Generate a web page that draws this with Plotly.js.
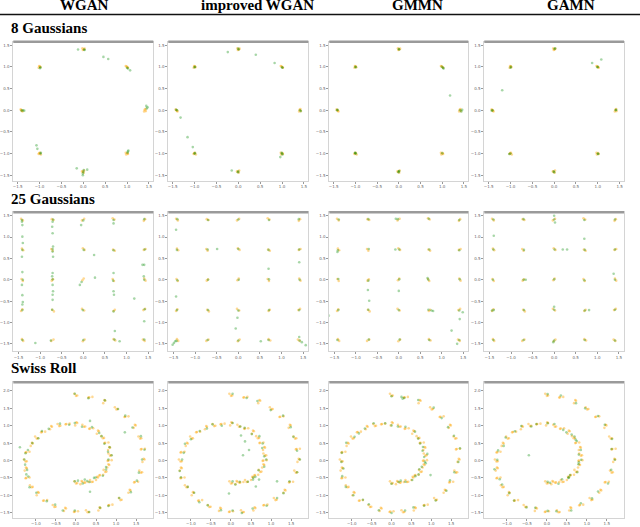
<!DOCTYPE html>
<html>
<head>
<meta charset="utf-8">
<script src="https://cdn.plot.ly/plotly-3.0.1.min.js"></script>
<style>
  body { margin: 0; background: #fff; }
  #chart { width: 640px; height: 527px; }
</style>
</head>
<body>
<div id="chart"></div>
<script>
// column and row names
var methods = ["WGAN", "improved WGAN", "GMMN", "GAMN"];
var rowNames = ["8 Gaussians", "25 Gaussians", "Swiss Roll"];

// tick labels
var gaussTicks = [-1.5, -1.0, -0.5, 0.0, 0.5, 1.0, 1.5];
var gaussTickText = ["\u22121.5", "\u22121.0", "\u22120.5", "0.0", "0.5", "1.0", "1.5"];
var swissXTicks = [-1.0, -0.5, 0.0, 0.5, 1.0, 1.5];
var swissXTickText = ["\u22121.0", "\u22120.5", "0.0", "0.5", "1.0", "1.5"];
var swissYTicks = [-1.5, -1.0, -0.5, 0.0, 0.5, 1.0, 1.5, 2.0];
var swissYTickText = ["\u22121.5", "\u22121.0", "\u22120.5", "0.0", "0.5", "1.0", "1.5", "2.0"];

// 8 gaussians - real samples (orange)
var real8 = [
  [1.40,0.01],[1.43,-0.02],[1.39,-0.03],[1.42,0.03],
  [-1.43,0.02],[-1.40,-0.01],[-1.42,0.00],[-1.39,-0.03],
  [0.01,1.40],[-0.02,1.43],[0.03,1.42],[-0.01,1.39],
  [-0.01,-1.42],[0.02,-1.39],[-0.03,-1.41],[0.01,-1.44],
  [0.99,1.01],[1.02,0.98],[0.97,1.02],[1.01,0.99],
  [0.98,-1.02],[1.01,-0.99],[0.97,-0.98],[1.02,-1.01],
  [-1.01,1.02],[-0.98,0.99],[-1.02,0.98],[-0.99,1.01],
  [-0.99,-0.98],[-1.02,-1.01],[-0.97,-1.02],[-1.01,-0.99]
];
// 8 gaussians - generated samples (green)
var wgan8 = [
  [1.45,0.04],[1.47,0.07],[1.44,0.10],[-1.41,-0.01],[-1.38,0.00],[-1.35,-0.01],
  [0.02,1.40],[0.03,1.39],[-0.12,1.40],[0.46,1.23],[0.57,1.18],
  [0.01,-1.38],[0.00,-1.42],[-0.01,-1.46],[-0.01,-1.50],[-0.15,-1.34],[0.09,-1.37],
  [1.00,0.98],[1.02,0.96],[1.07,0.92],[1.02,-0.95],[1.01,-0.98],[1.03,-0.93],
  [-0.98,0.99],[-0.99,0.97],[-0.98,-1.00],[-0.97,-0.98],[-1.07,-0.81],[-1.05,-0.89]
];
var iwgan8 = [
  [1.41,0.00],[1.43,-0.02],[-1.42,0.01],[-1.40,0.00],[0.00,1.42],[0.01,1.40],
  [-0.01,-1.43],[0.00,-1.41],[1.00,0.99],[1.01,0.98],[1.00,-1.00],[1.01,-1.02],[0.99,-0.98],
  [-1.00,0.99],[-0.99,1.00],[-1.00,-1.00],[-0.99,-0.99],
  [-0.24,1.34],[0.40,1.28],[0.83,1.09],[-1.32,-0.17],[-1.16,-0.62],[-1.04,-0.85],[-0.15,-1.39],[0.96,-1.08]
];
var gmmn8 = [
  [1.41,0.00],[1.44,-0.03],[1.46,0.01],[-1.42,0.00],[-1.41,0.01],[0.00,1.41],[0.01,1.40],
  [0.00,-1.41],[0.01,-1.40],[-0.01,-1.43],[0.99,1.00],[1.02,0.98],[1.03,0.96],[1.00,-0.99],
  [-1.00,1.00],[-0.99,0.99],[-1.00,-0.99],[-0.99,-1.00],[-1.01,-0.98],[1.18,0.34]
];
var gamn8 = [
  [1.41,0.00],[1.42,0.01],[-1.41,0.00],[-1.43,-0.01],[0.01,1.41],[0.02,1.43],
  [-0.01,-1.41],[0.00,-1.43],[1.00,1.00],[0.99,0.99],[1.00,-1.00],[1.01,-1.01],
  [-0.99,1.00],[-1.00,0.98],[-1.00,-1.00],[-1.03,-1.01],[1.08,1.17],[0.87,1.09],[-1.19,0.46]
];

// 25 gaussians - real samples (orange)
var real25 = [
  [-1.44,1.43],[-1.40,1.39],[-0.73,1.42],[-0.69,1.40],[0.02,1.43],[-0.03,1.39],[0.72,1.41],[0.68,1.44],[1.40,1.38],[1.43,1.42],
  [-1.42,0.73],[-1.39,0.69],[-0.71,0.68],[-0.74,0.72],[0.03,0.70],[-0.01,0.74],[0.69,0.71],[0.73,0.68],[1.44,0.72],[1.40,0.70],
  [-1.43,0.02],[-1.40,-0.03],[-0.70,0.01],[-0.73,-0.02],[0.01,0.03],[-0.02,-0.01],[0.71,-0.03],[0.68,0.02],[1.41,0.03],[1.44,-0.02],
  [-1.41,-0.69],[-1.44,-0.73],[-0.72,-0.70],[-0.68,-0.74],[0.02,-0.72],[-0.03,-0.68],[0.73,-0.70],[0.70,-0.73],[1.39,-0.71],[1.43,-0.68],
  [-1.42,-1.39],[-1.39,-1.43],[-0.69,-1.40],[-0.74,-1.43],[-0.01,-1.44],[0.03,-1.40],[0.70,-1.39],[0.74,-1.42],[1.42,-1.43],[1.38,-1.40]
];
// 25 gaussians - generated samples (green)
var wgan25 = [
  [-1.42,1.40],[-0.70,1.41],[0.00,1.39],[0.70,1.40],[1.41,1.42],
  [-1.41,0.70],[-0.71,0.72],[0.01,0.70],[0.70,0.69],[1.42,0.71],
  [-1.40,0.00],[-0.71,0.01],[-0.04,-0.05],[0.69,-0.02],[1.41,0.00],
  [-1.41,-0.71],[-0.72,-0.70],[-0.01,-0.71],[0.70,-0.74],[1.42,-0.69],
  [-1.41,-1.41],[-0.75,-1.42],[0.00,-1.41],[0.72,-1.40],[1.41,-1.40],
  [-1.42,1.36],[-1.41,1.28],[-1.41,1.01],[-1.40,0.86],[-1.42,0.54],[-1.41,0.18],[-1.42,-0.12],[-1.41,-0.36],[-1.40,-0.52],[-1.41,-0.58],
  [-0.71,1.36],[-0.72,1.24],[-0.71,1.09],[-0.70,0.78],[-0.71,0.66],[-0.70,0.54],[-0.71,0.16],[-0.72,0.08],[-0.71,-0.12],[-0.70,-0.27],[-0.71,-0.35],[-0.71,-0.47],
  [-0.05,1.28],[-0.08,-0.12],[0.70,1.32],[0.70,0.16],[0.70,-0.27],[0.71,-0.35],[1.41,0.35],[1.40,0.08],[1.37,0.35],[1.41,-0.97],
  [0.25,0.58],[0.27,0.05],[1.18,-0.44],[-1.11,-1.48],[0.73,-1.20],[0.84,-1.44]
];
var iwgan25 = [
  [-1.41,1.42],[-0.70,1.40],[0.00,1.41],[0.71,1.40],[1.40,1.42],
  [-1.42,0.70],[-0.71,0.71],[0.00,0.72],[0.70,0.70],[1.41,0.71],
  [-1.41,-0.01],[-0.70,0.00],[0.01,0.00],[0.71,0.01],[1.42,0.00],
  [-1.42,-0.71],[-0.70,-0.71],[0.00,-0.72],[0.71,-0.71],[1.41,-0.71],
  [-1.43,-1.43],[-0.71,-1.41],[0.00,-1.42],[0.70,-1.41],[1.42,-1.42],
  [-1.44,1.17],[-0.49,0.72],[0.70,0.26],[1.41,0.41],[-1.44,-0.39],[-0.02,-0.89],[-0.06,-1.14],[0.52,-1.44],
  [1.56,-1.53],[-1.52,-1.52],[-1.49,-1.48],[-1.46,-1.44],[1.41,-1.34],[1.47,-1.46]
];
var gmmn25 = [
  [-1.40,1.41],[-0.71,1.42],[-0.02,1.42],[0.70,1.43],[1.41,1.40],
  [-1.42,0.69],[-0.70,0.72],[0.01,0.71],[0.71,0.71],[1.41,0.69],
  [-1.41,0.02],[-0.71,-0.02],[0.01,0.01],[0.69,0.00],[1.42,0.01],
  [-1.41,-0.71],[-0.71,-0.70],[0.00,-0.71],[0.69,-0.70],[1.41,-0.72],
  [-1.43,-1.41],[-0.70,-1.40],[0.02,-1.40],[0.71,-1.41],[1.41,-1.41],
  [-0.72,-0.24],[0.00,-0.26],[-0.69,-0.49],[-1.63,-0.84],[1.42,-0.92],[1.23,-1.19],[1.36,-1.50],
  [0.76,-0.72],[0.80,-0.73],[1.49,-0.76],[-0.07,1.43],[-1.43,0.65],[-0.08,0.71],[0.67,0.04]
];
var gamn25 = [
  [-1.41,1.41],[-0.71,1.42],[0.00,1.41],[0.70,1.40],[1.41,1.41],
  [-1.41,0.71],[-0.70,0.70],[0.01,0.71],[0.71,0.70],[1.41,0.71],
  [-1.42,0.00],[-0.71,0.00],[0.00,0.01],[0.70,-0.01],[1.41,0.00],
  [-1.40,-0.71],[-0.70,-0.71],[0.00,-0.70],[0.71,-0.72],[1.41,-0.70],
  [-1.41,-1.41],[-0.71,-1.41],[0.00,-1.42],[0.71,-1.41],[1.41,-1.42],
  [-1.40,1.03],[0.00,1.50],[0.02,1.34],[0.70,0.96],[0.20,0.71],[0.30,0.71],[1.38,0.14],
  [0.81,-0.71],[0.00,-0.63],[-0.02,-1.46],[-0.66,0.00],[-1.44,-0.72]
];

// swiss roll - real samples (orange)
var realSwiss = [
  [0.03,-0.65],[-0.04,-0.60],[0.14,-0.59],[0.11,-0.68],[0.31,-0.62],[0.21,-0.64],[0.42,-0.61],[0.35,-0.56],
  [0.53,-0.47],[0.50,-0.56],[0.68,-0.41],[0.58,-0.43],[0.76,-0.32],[0.69,-0.27],[0.81,-0.11],[0.78,-0.20],
  [0.89,0.01],[0.79,-0.01],[0.88,0.15],[0.81,0.20],[0.83,0.39],[0.80,0.30],[0.81,0.52],[0.71,0.50],
  [0.70,0.65],[0.63,0.70],[0.55,0.86],[0.52,0.77],[0.43,0.93],[0.33,0.91],[0.23,0.98],[0.16,1.03],
  [0.01,1.10],[-0.02,1.01],[-0.16,1.06],[-0.26,1.04],[-0.39,1.00],[-0.46,1.05],[-0.62,0.99],[-0.65,0.90],
  [-0.77,0.83],[-0.87,0.81],[-0.95,0.64],[-1.02,0.69],[-1.10,0.51],[-1.13,0.42],[-1.16,0.25],[-1.26,0.23],
  [-1.23,-0.02],[-1.30,0.03],[-1.25,-0.20],[-1.28,-0.29],[-1.16,-0.49],[-1.26,-0.51],[-1.08,-0.76],[-1.15,-0.71],
  [-0.95,-0.91],[-0.98,-1.00],[-0.72,-1.14],[-0.82,-1.16],[-0.51,-1.33],[-0.58,-1.28],[-0.27,-1.36],[-0.30,-1.45],
  [0.05,-1.46],[-0.05,-1.48],[0.32,-1.48],[0.25,-1.43],[0.59,-1.35],[0.56,-1.44],[0.91,-1.27],[0.81,-1.29],
  [1.14,-1.13],[1.07,-1.08],[1.34,-0.84],[1.31,-0.93],[1.55,-0.61],[1.45,-0.63],[1.65,-0.34],[1.58,-0.29],
  [1.69,0.05],[1.66,-0.04],[1.72,0.34],[1.62,0.32],[1.63,0.64],[1.56,0.69],[1.47,1.03],[1.44,0.94],
  [1.31,1.27],[1.21,1.25],[1.04,1.48],[0.97,1.53],[0.71,1.74],[0.68,1.65],[0.41,1.83],[0.31,1.81],
  [0.03,1.87],[-0.04,1.92],
  [0.00,-0.66],[0.16,-0.61],[0.23,-0.63],[0.39,-0.62],[0.55,-0.49],[0.60,-0.42],[0.73,-0.33],[0.83,-0.13],
  [0.81,0.00],[0.85,0.14],[0.85,0.37],[0.73,0.51],[0.67,0.64],[0.57,0.84],[0.35,0.92],[0.20,0.97],
  [0.03,1.08],[-0.24,1.05],[-0.42,0.99],[-0.60,0.97],[-0.85,0.82],[-0.98,0.63],[-1.08,0.49],[-1.24,0.24],
  [-1.26,-0.03],[-1.23,-0.22],[-1.24,-0.50],[-1.11,-0.77],[-0.93,-0.93],[-0.80,-1.15],[-0.54,-1.34],[-0.25,-1.38],
  [-0.03,-1.47],[0.29,-1.49],[0.61,-1.37],[0.83,-1.28],[1.11,-1.14],[1.36,-0.86],[1.47,-0.62],[1.62,-0.35],
  [1.71,0.03],[1.64,0.33],[1.60,0.63],[1.49,1.01],[1.23,1.26],[1.01,1.47],[0.73,1.72],[0.33,1.82],[0.00,1.86]
];
// swiss roll - generated samples (green)
var wganSwiss = [
  [-0.03,-0.60],[0.17,-0.66],[0.28,-0.59],[0.34,-0.62],[0.49,-0.49],[0.67,-0.44],[0.75,-0.26],[0.75,-0.19],
  [0.81,0.03],[0.89,0.15],[0.84,0.38],[0.71,0.48],[0.64,0.70],[0.58,0.79],[0.40,0.96],[0.15,0.97],
  [-0.03,1.08],[-0.17,1.03],[-0.40,1.06],[-0.68,0.91],[-0.85,0.85],[-0.94,0.64],[-1.09,0.50],[-1.26,0.21],
  [-1.29,0.03],[-1.22,-0.27],[-1.19,-0.46],[-1.16,-0.77],[-0.99,-0.93],[-0.73,-1.17],[-0.52,-1.27],[-0.33,-1.44],
  [-0.03,-1.44],[0.33,-1.48],[0.60,-1.36],[0.81,-1.31],[1.08,-1.08],[1.37,-0.91],[1.52,-0.58],[1.57,-0.35],
  [1.65,0.03],[1.71,0.31],[1.62,0.70],[1.41,0.95],[1.23,1.29],[1.05,1.48],[0.72,1.73],[0.31,1.79],[-0.03,1.92],
  [0.05,-0.58],[0.22,-0.55],[0.45,-0.50],[-1.27,-0.12],[-1.24,-0.40],[-1.20,0.30],[0.80,0.25],
  [0.35,1.14],[0.35,-0.90],[1.22,0.81],[-1.40,0.38]
];
var iwganSwiss = [
  [0.04,-0.60],[0.11,-0.69],[0.22,-0.61],[0.42,-0.61],[0.56,-0.49],[0.61,-0.47],[0.69,-0.28],[0.83,-0.18],
  [0.88,0.03],[0.83,0.12],[0.78,0.36],[0.79,0.49],[0.71,0.70],[0.52,0.76],[0.34,0.94],[0.23,0.98],
  [0.04,1.08],[-0.23,1.00],[-0.46,1.04],[-0.60,0.92],[-0.78,0.85],[-1.00,0.61],[-1.15,0.48],[-1.18,0.22],
  [-1.22,0.03],[-1.28,-0.30],[-1.25,-0.48],[-1.08,-0.76],[-0.92,-0.93],[-0.79,-1.20],[-0.58,-1.29],[-0.25,-1.43],
  [0.04,-1.44],[0.27,-1.51],[0.54,-1.38],[0.89,-1.30],[1.15,-1.08],[1.31,-0.94],[1.46,-0.60],[1.65,-0.34],
  [1.72,0.03],[1.65,0.28],[1.56,0.68],[1.49,0.96],[1.30,1.29],[0.99,1.45],[0.66,1.71],[0.39,1.80],[0.04,1.92],
  [0.25,0.72],[0.35,0.55],[0.45,0.30],[0.62,-0.75],[-0.05,-0.95],[0.30,0.15],[1.15,-0.60],[0.70,-0.55],[0.55,-0.55]
];
var gmmnSwiss = [
  [0.00,-0.67],[0.18,-0.62],[0.23,-0.58],[0.35,-0.61],[0.52,-0.56],[0.68,-0.40],[0.70,-0.25],[0.76,-0.18],
  [0.84,-0.04],[0.90,0.19],[0.79,0.39],[0.72,0.49],[0.67,0.63],[0.59,0.83],[0.35,0.97],[0.16,0.98],
  [0.00,1.01],[-0.16,1.07],[-0.45,1.07],[-0.67,0.92],[-0.82,0.78],[-0.93,0.68],[-1.14,0.51],[-1.25,0.22],
  [-1.26,-0.04],[-1.21,-0.23],[-1.24,-0.45],[-1.15,-0.76],[-0.96,-1.00],[-0.72,-1.13],[-0.57,-1.26],[-0.32,-1.43],
  [0.00,-1.51],[0.34,-1.44],[0.55,-1.35],[0.82,-1.30],[1.11,-1.15],[1.38,-0.87],[1.47,-0.57],[1.58,-0.34],
  [1.68,-0.04],[1.72,0.35],[1.57,0.71],[1.42,0.96],[1.26,1.22],[1.06,1.52],[0.67,1.74],[0.32,1.80],[0.00,1.85],
  [0.82,0.10],[0.86,-0.08],[0.78,0.28],[0.60,-0.45],[0.28,1.78],[0.25,1.83],[0.98,-0.42]
];
var gamnSwiss = [
  [0.02,-0.61],[0.08,-0.64],[0.29,-0.67],[0.38,-0.54],[0.54,-0.50],[0.58,-0.42],[0.76,-0.34],[0.79,-0.11],
  [0.86,0.02],[0.80,0.17],[0.85,0.30],[0.75,0.56],[0.69,0.69],[0.49,0.81],[0.41,0.88],[0.19,1.05],
  [0.02,1.07],[-0.26,1.05],[-0.39,0.98],[-0.64,0.99],[-0.80,0.84],[-1.03,0.66],[-1.08,0.42],[-1.22,0.29],
  [-1.24,0.02],[-1.31,-0.25],[-1.18,-0.54],[-1.12,-0.69],[-0.94,-0.94],[-0.82,-1.15],[-0.51,-1.35],[-0.29,-1.36],
  [0.02,-1.45],[0.24,-1.46],[0.61,-1.44],[0.85,-1.23],[1.13,-1.09],[1.28,-0.89],[1.53,-0.66],[1.61,-0.27],
  [1.70,0.02],[1.62,0.33],[1.63,0.62],[1.45,1.03],[1.28,1.28],[0.96,1.50],[0.73,1.65],[0.35,1.87],[0.02,1.91],
  [0.72,0.60],[0.62,0.75],[0.55,-0.48],[-0.45,0.15],[0.80,-0.05]
];

var realSets = [real8, real25, realSwiss];
var fakeSets = [
  [wgan8, iwgan8, gmmn8, gamn8],
  [wgan25, iwgan25, gmmn25, gamn25],
  [wganSwiss, iwganSwiss, gmmnSwiss, gamnSwiss]
];

// panel placement, in pixels of the 640x527 picture
var W = 640, H = 527;
var colLeft = [13.3, 168.3, 329.3, 484.3];
var colRight = [153.3, 308.3, 468.3, 624];
var rowTop = [41.7, 212.3, 382.3];
var rowBottom = [180.5, 350.7, 517.5];
var rowLabelY = [28, 199, 368];
var headerX = [84, 257, 417, 571];

var xRanges = [[-1.60, 1.60], [-1.62, 1.62], [-1.565, 1.93]];
var yRanges = [[-1.62, 1.58], [-1.66, 1.58], [-1.64, 2.25]];

var data = [];
var layout = {
  width: W, height: H,
  margin: {l: 0, r: 0, t: 0, b: 0},
  paper_bgcolor: "#fff",
  plot_bgcolor: "#fff",
  showlegend: false,
  shapes: [],
  annotations: []
};

function px(x) { return x / W; }
function py(y) { return 1 - y / H; }

var n = 0;
for (var r = 0; r < 3; r++) {
  for (var c = 0; c < 4; c++) {
    n++;
    var xa = n == 1 ? "x" : "x" + n;
    var ya = n == 1 ? "y" : "y" + n;
    var xkey = n == 1 ? "xaxis" : "xaxis" + n;
    var ykey = n == 1 ? "yaxis" : "yaxis" + n;

    var real = realSets[r];
    var fake = fakeSets[r][c];
    data.push({
      x: real.map(function (p) { return p[0]; }),
      y: real.map(function (p) { return p[1]; }),
      xaxis: xa, yaxis: ya,
      type: "scatter", mode: "markers",
      marker: {size: 2.6, color: "rgba(255,165,0,0.42)", line: {width: 0}},
      hoverinfo: "skip"
    });
    data.push({
      x: fake.map(function (p) { return p[0]; }),
      y: fake.map(function (p) { return p[1]; }),
      xaxis: xa, yaxis: ya,
      type: "scatter", mode: "markers",
      marker: {size: 2.6, color: "rgba(10,140,10,0.36)", line: {width: 0}},
      hoverinfo: "skip"
    });

    var xt = r == 2 ? swissXTicks : gaussTicks;
    var xtt = r == 2 ? swissXTickText : gaussTickText;
    var yt = r == 2 ? swissYTicks : gaussTicks;
    var ytt = r == 2 ? swissYTickText : gaussTickText;

    layout[xkey] = {
      domain: [px(colLeft[c]), px(colRight[c])],
      range: xRanges[r], anchor: ya,
      tickvals: xt, ticktext: xtt,
      showgrid: false, zeroline: false,
      showline: true, mirror: true, linecolor: "#d4d4d4", linewidth: 1,
      ticks: "outside", ticklen: 2, tickwidth: 1, tickcolor: "#999",
      tickfont: {family: "DejaVu Sans", size: 4, color: "#666"}
    };
    layout[ykey] = {
      domain: [py(rowBottom[r]), py(rowTop[r])],
      range: yRanges[r], anchor: xa,
      tickvals: yt, ticktext: ytt,
      showgrid: false, zeroline: false,
      showline: true, mirror: true, linecolor: "#d4d4d4", linewidth: 1,
      ticks: "outside", ticklen: 2, tickwidth: 1, tickcolor: "#999",
      tickfont: {family: "DejaVu Sans", size: 4, color: "#666"}
    };

    // heavier grey top edge of each frame
    layout.shapes.push({
      type: "line", xref: "paper", yref: "paper",
      x0: px(colLeft[c]), x1: px(colRight[c]),
      y0: py(rowTop[r]), y1: py(rowTop[r]),
      line: {color: "#9a9a9a", width: 2.5}
    });
  }
}

// rule under the column titles
layout.shapes.push({
  type: "line", xref: "paper", yref: "paper",
  x0: 0, x1: 1, y0: py(14.5), y1: py(14.5),
  line: {color: "#111", width: 1.4}
});

var titleFont = {family: "Liberation Serif, Times New Roman, serif", size: 15, color: "#000"};
for (var i = 0; i < methods.length; i++) {
  layout.annotations.push({
    text: "<b>" + methods[i] + "</b>",
    xref: "paper", yref: "paper",
    x: px(headerX[i]), y: py(4.5), xanchor: "center", yanchor: "middle",
    showarrow: false, font: titleFont
  });
}
for (var j = 0; j < rowNames.length; j++) {
  layout.annotations.push({
    text: "<b>" + rowNames[j] + "</b>",
    xref: "paper", yref: "paper",
    x: px(9), y: py(rowLabelY[j]), xanchor: "left", yanchor: "middle",
    showarrow: false, font: titleFont
  });
}

Plotly.newPlot("chart", data, layout, {staticPlot: true, displayModeBar: false});
</script>
</body>
</html>
